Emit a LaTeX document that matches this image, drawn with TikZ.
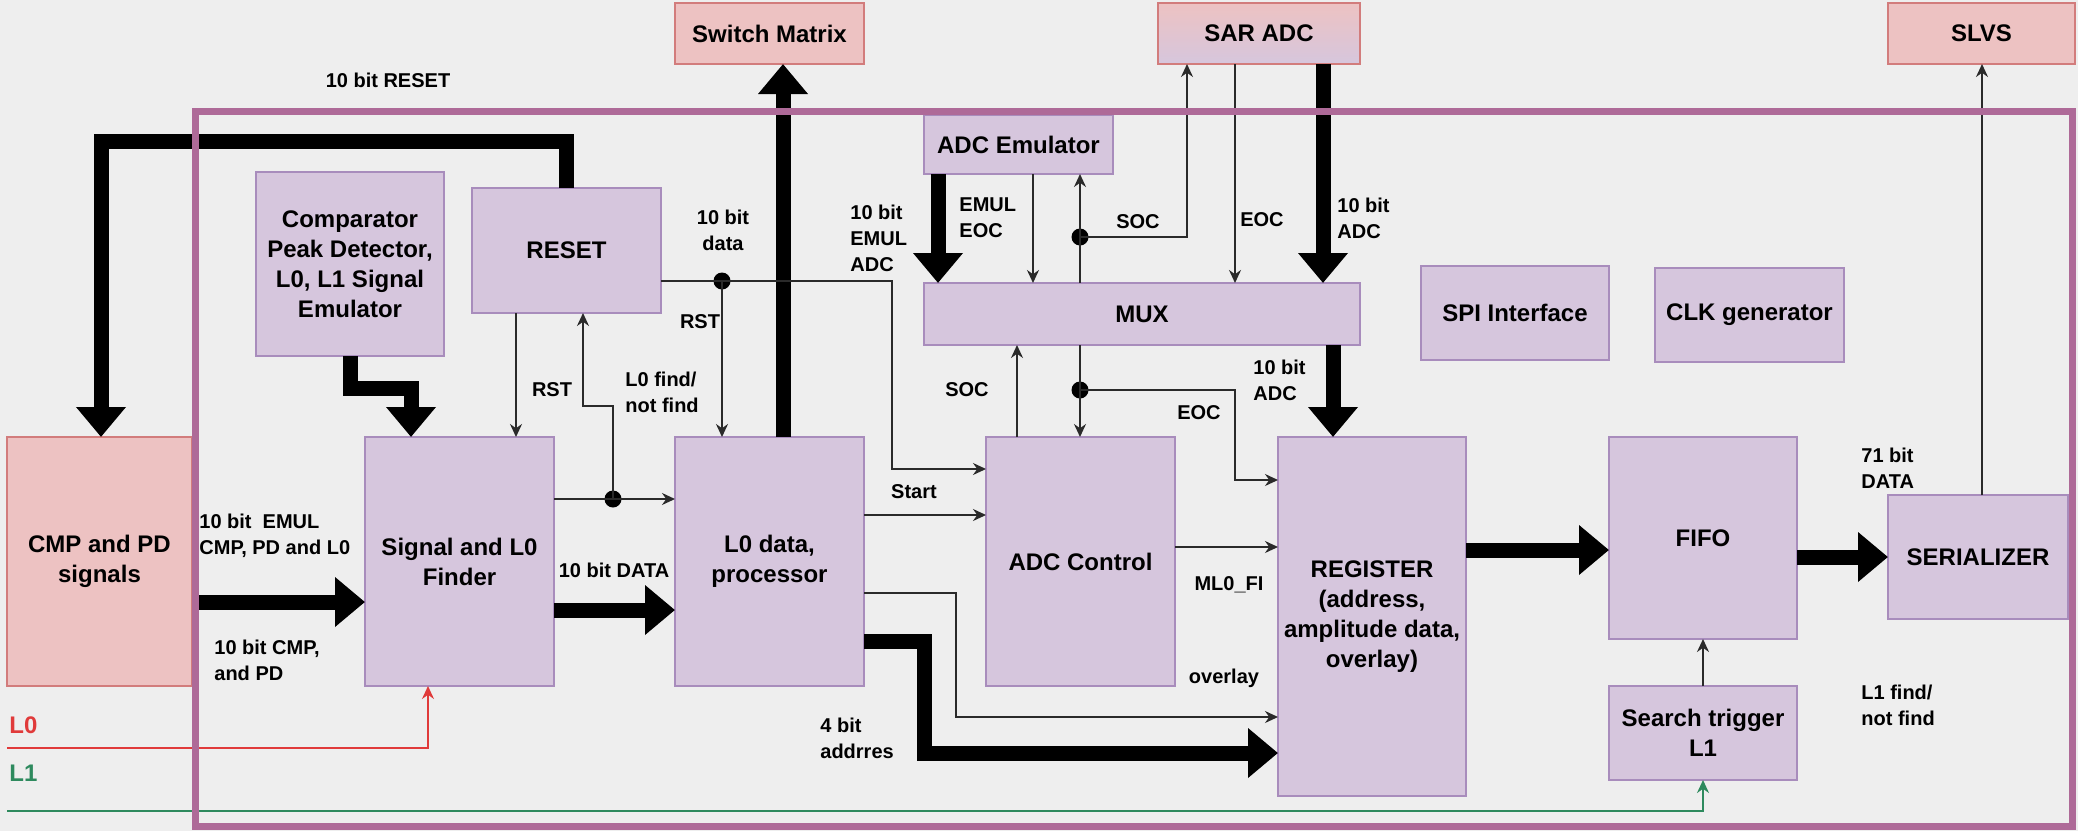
\documentclass[tikz,border=0pt]{standalone}
\usepackage{fontspec}
\setmainfont{Liberation Sans}
\usetikzlibrary{arrows.meta,calc}
\definecolor{bg}{HTML}{EEEEEE}
\definecolor{frm}{HTML}{AE6A98}
\definecolor{lavf}{HTML}{D6C6DD}
\definecolor{lavd}{HTML}{A88CBC}
\definecolor{pinkf}{HTML}{EDC2C2}
\definecolor{pinkd}{HTML}{D27C7C}
\definecolor{ln}{HTML}{2A2A2A}
\definecolor{lzero}{HTML}{E03A3A}
\definecolor{lone}{HTML}{2E8A5E}
\newcommand\mybox[7]{\node[#1, minimum width={(#4-#2)*0.5pt}, minimum height={(#5-#3)*0.5pt}] (#6) at ({(#2+#4)/2},{(#3+#5)/2}) {#7};}
\begin{document}
\begin{tikzpicture}[x=0.5pt,y=-0.5pt,
  lav/.style={draw=lavd, fill=lavf, line width=0.8pt, inner sep=0pt, outer sep=0pt, align=center, font=\fontsize{12}{15}\selectfont\bfseries},
  pnk/.style={lav, draw=pinkd, fill=pinkf},
  grd/.style={lav, draw=pinkd, top color=pinkf, bottom color=lavf},
  lbl/.style={inner sep=0pt, font=\fontsize{10}{13}\selectfont\bfseries, align=left},
  thk/.style={line width=7.5pt, -{Triangle[length=15pt,width=24pt]}},
  thn/.style={draw=ln, line width=0.8pt, -{Stealth[length=6.5pt,width=6pt]}},
  dot/.style={circle, fill=black, inner sep=0pt, outer sep=0pt, minimum size=8.5pt},
]
\fill[bg] (0,0) rectangle (2078,831);
\useasboundingbox (0,0) rectangle (2078,831);

% boxes
\mybox{pnk}{675}{3}{864}{64}{sw}{Switch Matrix}
\mybox{grd}{1158}{3}{1360}{64}{sar}{SAR ADC}
\mybox{pnk}{1888}{3}{2075}{64}{slvs}{SLVS}
\mybox{pnk}{7}{437}{192}{686}{cmp}{CMP and PD\\signals}
\mybox{lav}{256}{172}{444}{356}{comp}{Comparator\\Peak Detector,\\L0, L1 Signal\\Emulator}
\mybox{lav}{472}{188}{661}{313}{reset}{RESET}
\mybox{lav}{365}{437}{554}{686}{sig}{Signal and L0\\Finder}
\mybox{lav}{675}{437}{864}{686}{lzd}{L0 data,\\processor}
\mybox{lav}{986}{437}{1175}{686}{adcc}{ADC Control}
\mybox{lav}{1278}{437}{1466}{796}{reg}{REGISTER\\(address,\\amplitude data,\\overlay)}
\mybox{lav}{1609}{437}{1797}{639}{fifo}{FIFO}
\mybox{lav}{1609}{686}{1797}{780}{srch}{Search trigger\\L1}
\mybox{lav}{1888}{495}{2068}{619}{ser}{SERIALIZER}
\mybox{lav}{924}{115}{1113}{174}{emu}{ADC Emulator}
\mybox{lav}{924}{283}{1360}{345}{mux}{MUX}
\mybox{lav}{1421}{266}{1609}{360}{spi}{SPI Interface}
\mybox{lav}{1655}{268}{1844}{362}{clk}{CLK generator}

% thick connectors
\draw[thk] (cmp.east |- 0,602) -- (sig.west |- 0,602);
\draw[thk] (sig.east |- 0,610) -- (lzd.west |- 0,610);
\draw[thk] (comp.south -| 350,0) -- (350,388) -- (411,388) -- (sig.north -| 411,0);
\draw[thk] (reset.north -| 566,0) -- (566,141) -- (101,141) -- (cmp.north -| 101,0);
\draw[thk] (lzd.north -| 783,0) -- (sw.south -| 783,0);
\draw[thk] (lzd.east |- 0,641) -- (924,641) -- (924,753) -- (reg.west |- 0,753);
\draw[thk] (emu.south -| 938,0) -- (mux.north -| 938,0);
\draw[thk] (sar.south -| 1323,0) -- (mux.north -| 1323,0);
\draw[thk] (mux.south -| 1333,0) -- (reg.north -| 1333,0);
\draw[thk] (reg.east |- 0,550) -- (fifo.west |- 0,550);
\draw[thk] (fifo.east |- 0,557) -- (ser.west |- 0,557);

% thin connectors
\node[dot] (d1) at (613,499) {};
\node[dot] (d2) at (722,281) {};
\node[dot] (d3) at (1080,390) {};
\node[dot] (d4) at (1080,237) {};
\draw[thn] (reset.south -| 516,0) -- (sig.north -| 516,0);
\draw[thn] (sig.east |- 0,499) -- (lzd.west |- 0,499);
\draw[thn] (d1.center) -- (613,406) -- (583,406) -- (reset.south -| 583,0);
\draw[thn] (reset.east |- 0,281) -- (892,281) -- (892,469) -- (adcc.west |- 0,469);
\draw[thn] (d2.center) -- (lzd.north -| 722,0);
\draw[thn] (lzd.east |- 0,515) -- (adcc.west |- 0,515);
\draw[thn] (lzd.east |- 0,593) -- (956,593) -- (956,717) -- (reg.west |- 0,717);
\draw[thn] (adcc.east |- 0,547) -- (reg.west |- 0,547);
\draw[thn] (mux.south -| 1080,0) -- (adcc.north -| 1080,0);
\draw[thn] (d3.center) -- (1235,390) -- (1235,480) -- (reg.west |- 0,480);
\draw[thn] (adcc.north -| 1017,0) -- (mux.south -| 1017,0);
\draw[thn] (sar.south -| 1235,0) -- (mux.north -| 1235,0);
\draw[thn] (mux.north -| 1080,0) -- (emu.south -| 1080,0);
\draw[thn] (d4.center) -- (1187,237) -- (sar.south -| 1187,0);
\draw[thn] (emu.south -| 1033,0) -- (mux.north -| 1033,0);
\draw[thn] (ser.north -| 1982,0) -- (slvs.south -| 1982,0);
\draw[thn] (srch.north -| 1703,0) -- (fifo.south -| 1703,0);
\coordinate (lzs) at (7,748);
\coordinate (los) at (7,811);
\draw[thn, draw=lzero] (lzs) -- (428,748) -- (sig.south -| 428,0);
\draw[thn, draw=lone] (los) -- (1703,811) -- (srch.south -| 1703,0);

% labels
\node[lbl] at (388,80) {10 bit RESET};
\node[lbl, anchor=west] at (199,535.5) {10 bit\ \ EMUL\\CMP, PD and L0};
\node[lbl, anchor=west] at (214,660.5) {10 bit CMP,\\and PD};
\node[lbl] at (614,570) {10 bit DATA};
\node[lbl] at (552,390) {RST};
\node[lbl, anchor=west] at (625,392.5) {L0 find/\\not find};
\node[lbl, align=center] at (723,230.5) {10 bit\\data};
\node[lbl] at (700,322) {RST};
\node[lbl] at (914,492) {Start};
\node[lbl] at (1224,678) {overlay};
\node[lbl, anchor=west] at (820,738.5) {4 bit\\addrres};
\node[lbl] at (1229,585) {ML0\_FI};
\node[lbl] at (1199,413) {EOC};
\node[lbl] at (967,390) {SOC};
\node[lbl, anchor=west] at (1253,380) {10 bit\\ADC};
\node[lbl, anchor=west] at (1337,218.5) {10 bit\\ADC};
\node[lbl] at (1262,220) {EOC};
\node[lbl] at (1138,222) {SOC};
\node[lbl, anchor=west] at (959,217.5) {EMUL\\EOC};
\node[lbl, anchor=west] at (850,238.5) {10 bit\\EMUL\\ADC};
\node[lbl, anchor=west] at (1861,468.5) {71 bit\\DATA};
\node[lbl, anchor=west] at (1861,705.5) {L1 find/\\not find};
\node[lbl, anchor=west, text=lzero, font=\fontsize{12}{15}\selectfont\bfseries] at (9,725) {L0};
\node[lbl, anchor=west, text=lone, font=\fontsize{12}{15}\selectfont\bfseries] at (9,773) {L1};

% frame
\draw[frm, line width=3.5pt] (195,111) rectangle (2072,826);
\end{tikzpicture}
\end{document}
